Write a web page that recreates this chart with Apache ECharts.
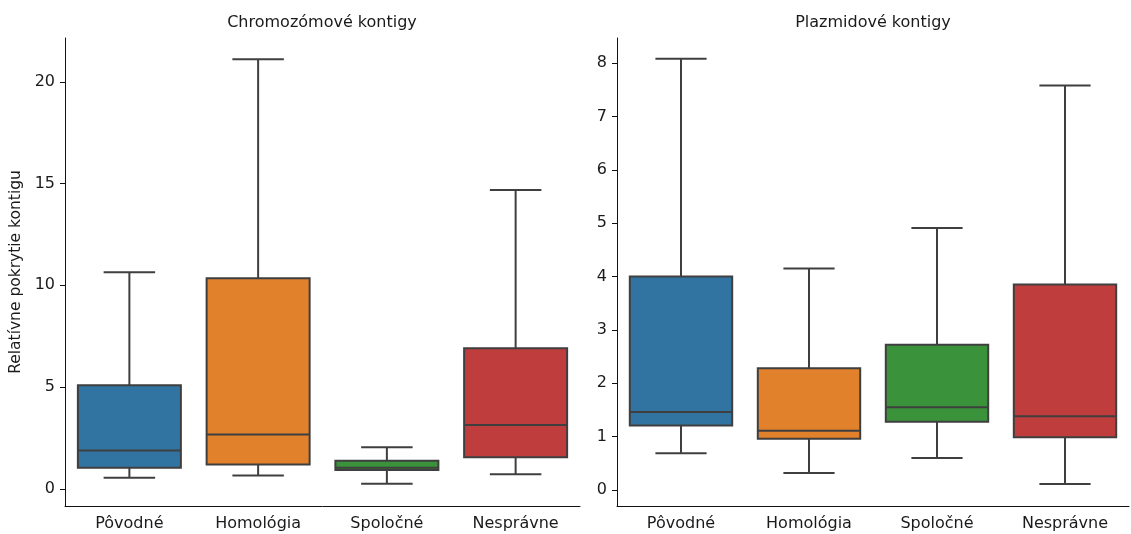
<!DOCTYPE html>
<html>
<head>
<meta charset="utf-8">
<script src="https://cdn.jsdelivr.net/npm/echarts@6/dist/echarts.min.js"></script>
<style>
html,body{margin:0;padding:0;background:#fff;}
#chart{width:1131px;height:534px;}
</style>
</head>
<body>
<div id="chart"></div>
<script>
// ---- data ----
const categories = ['Pôvodné', 'Homológia', 'Spoločné', 'Nesprávne'];
const titles = ['Chromozómové kontigy', 'Plazmidové kontigy'];
const yAxisName = 'Relatívne pokrytie kontigu';

// Chromosomal contigs
const chromLow    = [0.54, 0.65, 0.25, 0.71];
const chromQ1     = [1.04, 1.20, 0.92, 1.55];
const chromMedian = [1.88, 2.67, 1.03, 3.13];
const chromQ3     = [5.09, 10.34, 1.38, 6.90];
const chromHigh   = [10.64, 21.11, 2.04, 14.68];

// Plasmid contigs
const plasLow    = [0.69, 0.32, 0.60, 0.11];
const plasQ1     = [1.21, 0.96, 1.28, 0.99];
const plasMedian = [1.46, 1.11, 1.55, 1.38];
const plasQ3     = [4.00, 2.28, 2.72, 3.85];
const plasHigh   = [8.08, 4.15, 4.91, 7.58];

const chromTicks = [0, 5, 10, 15, 20];
const plasTicks  = [0, 1, 2, 3, 4, 5, 6, 7, 8];

const colors = ['#3274a1', '#e1812c', '#3a923a', '#c03d3e'];
const edge = '#3f3f3f';

function rows(lo, q1, md, q3, hi) {
  return categories.map((c, i) => [i, lo[i], q1[i], md[i], q3[i], hi[i]]);
}

function renderBox(params, api) {
  const i = api.value(0);
  const lo = api.coord([i, api.value(1)]);
  const q1 = api.coord([i, api.value(2)]);
  const md = api.coord([i, api.value(3)]);
  const q3 = api.coord([i, api.value(4)]);
  const hi = api.coord([i, api.value(5)]);
  const band = api.size([1, 0])[0];
  const bw = band * 0.8;
  const cw = bw * 0.5;
  const x = lo[0];
  const ls = {stroke: edge, lineWidth: 2};
  return {
    type: 'group',
    children: [
      {type: 'line', shape: {x1: x, y1: q1[1], x2: x, y2: lo[1]}, style: ls},
      {type: 'line', shape: {x1: x, y1: q3[1], x2: x, y2: hi[1]}, style: ls},
      {type: 'line', shape: {x1: x - cw / 2, y1: lo[1], x2: x + cw / 2, y2: lo[1]}, style: ls},
      {type: 'line', shape: {x1: x - cw / 2, y1: hi[1], x2: x + cw / 2, y2: hi[1]}, style: ls},
      {type: 'rect', shape: {x: x - bw / 2, y: q3[1], width: bw, height: q1[1] - q3[1]},
        style: {fill: colors[i], stroke: edge, lineWidth: 2}},
      {type: 'line', shape: {x1: x - bw / 2, y1: md[1], x2: x + bw / 2, y2: md[1]}, style: ls}
    ]
  };
}

const font = 'DejaVu Sans';
function xAxis(gi) {
  return {
    type: 'category', gridIndex: gi, data: categories,
    axisLine: {onZero: false, lineStyle: {color: '#111', width: 1}},
    axisTick: {alignWithLabel: true, length: 5, lineStyle: {color: '#111'}},
    axisLabel: {fontFamily: font, fontSize: 16, color: '#1a1a1a', margin: 10},
    splitLine: {show: false}
  };
}
function yAxis(gi, min, max, ticks, name) {
  return {
    type: 'value', gridIndex: gi, min: min, max: max,
    name: name || '', nameLocation: 'middle', nameRotate: 90, nameGap: 41,
    nameTextStyle: {fontFamily: font, fontSize: 15.5, color: '#1a1a1a'},
    axisLine: {show: true, onZero: false, lineStyle: {color: '#111', width: 1}},
    axisTick: {show: true, length: 5, lineStyle: {color: '#111'}, customValues: ticks},
    axisLabel: {fontFamily: font, fontSize: 16, color: '#1a1a1a', margin: 10, customValues: ticks},
    splitLine: {show: false}
  };
}

const chart = echarts.init(document.getElementById('chart'), null, {renderer: 'canvas'});
chart.setOption({
  animation: false,
  backgroundColor: '#fff',
  title: [
    {text: titles[0], left: 322, top: 15, textAlign: 'center', padding: 0,
      textStyle: {fontFamily: font, fontSize: 16, fontWeight: 'normal', color: '#1a1a1a'}},
    {text: titles[1], left: 873, top: 15, textAlign: 'center', padding: 0,
      textStyle: {fontFamily: font, fontSize: 16, fontWeight: 'normal', color: '#1a1a1a'}}
  ],
  grid: [
    {left: 65, right: 551, top: 38, bottom: 28},
    {left: 617, right: 2, top: 38, bottom: 28}
  ],
  xAxis: [xAxis(0), xAxis(1)],
  yAxis: [yAxis(0, -0.845, 22.15, chromTicks, yAxisName), yAxis(1, -0.3, 8.47, plasTicks)],
  series: [
    {type: 'custom', xAxisIndex: 0, yAxisIndex: 0, renderItem: renderBox,
      encode: {x: 0, y: [1, 2, 3, 4, 5]}, data: rows(chromLow, chromQ1, chromMedian, chromQ3, chromHigh)},
    {type: 'custom', xAxisIndex: 1, yAxisIndex: 1, renderItem: renderBox,
      encode: {x: 0, y: [1, 2, 3, 4, 5]}, data: rows(plasLow, plasQ1, plasMedian, plasQ3, plasHigh)}
  ]
});
</script>
</body>
</html>
